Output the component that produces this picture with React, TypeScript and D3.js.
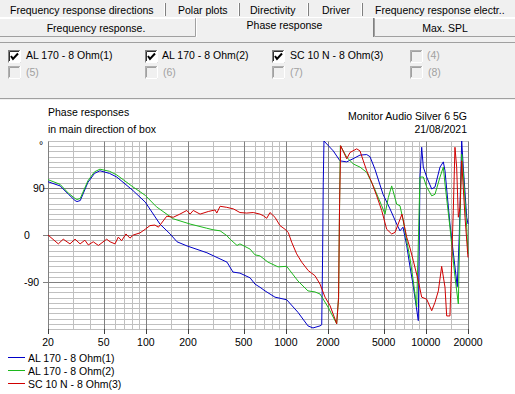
import React from "react";
import * as d3 from "d3";

// values (frequency in Hz, phase in degrees)
const blueFreq = [20, 24.4, 28, 31.2, 32.2, 34, 38.6, 43, 47, 55, 62, 81, 99, 126, 149, 167, 197, 273, 380, 419, 470, 555, 602, 653, 710, 836, 1014, 1220, 1438, 1562, 1754, 1804, 1830, 1850, 1872, 2182, 2436, 2721, 3020, 3386, 3780, 3990, 4330, 4944, 5545, 6192, 6535, 6868, 7296, 7705, 8092, 8832, 9080, 9336, 9588, 10140, 11010, 11620, 12620, 13330, 13700, 14860, 16140, 16760, 17340, 18030, 18510, 19580, 20000];
const bluePhase = [102, 94, 78, 66, 64, 66, 101, 118, 123, 118, 111, 85, 63, 21, 2, -13, -21, -34, -52, -71, -73, -82, -94, -100, -107, -119, -124, -148, -174, -178, -174, -172, -40, 100, 180, 161, 142, 140, 146, 153, 154, 150, 126, 78, 50, 21, 8, 15, -20, -61, -94, -164, 111, 168, 130, 111, 88, 92, 130, 140, 123, 21, -61, -99, 2, 180, 130, 34, 21];

const greenFreq = [20, 24.4, 28, 31.2, 32.2, 34, 38.6, 43, 47, 55, 62, 81, 99, 119, 157, 207, 272, 302, 339, 378, 399, 448, 470, 555, 602, 653, 746, 879, 1014, 1220, 1438, 1614, 1754, 2000, 2307, 2380, 2420, 2450, 2721, 3032, 3386, 3780, 4214, 4838, 5108, 5396, 5700, 6192, 6535, 6900, 7296, 7705, 8130, 8600, 9080, 9588, 10140, 11010, 11620, 12620, 13330, 13700, 14860, 16140, 17060, 17540, 18030, 18510, 19580, 20000];
const greenPhase = [106, 97, 80, 70, 68, 70, 104, 121, 126, 122, 115, 92, 76, 54, 31, 21, 13, 10, 8, -1, -8, -20, -17, -27, -38, -40, -52, -61, -60, -88, -107, -109, -113, -138, -170, -120, 60, 171, 149, 136, 130, 120, 94, 56, 40, 72, 94, 59, 56, 27, -11, -45, -88, -138, 111, 111, 92, 75, 78, 111, 130, 98, 15, -80, -132, 34, 155, 117, 15, -36];

const redFreq = [20, 23.7, 25.7, 28.7, 31.2, 33.9, 36.7, 38.8, 42.1, 45.8, 52.5, 55.5, 60.2, 63.6, 67.1, 72.1, 77, 81.3, 90.8, 99, 107, 116, 123, 133, 141, 157, 175, 196, 207, 218, 244, 279, 312, 321, 339, 378, 422, 470, 525, 585, 653, 690, 730, 770, 836, 908, 986, 1040, 1101, 1194, 1298, 1444, 1614, 1754, 1904, 2066, 2244, 2307, 2380, 2420, 2464, 2721, 2872, 3206, 3386, 3574, 3780, 4100, 4456, 4838, 5250, 5700, 6022, 6535, 6750, 7296, 7705, 8130, 8832, 9336, 10140, 11010, 11620, 12280, 12970, 13700, 14090, 14860, 15700, 16140, 16600, 17060, 17540, 18030, 19040, 20000];
const redPhase = [0, -17, -8, -17, -8, -17, -10, -19, -13, -20, -8, -13, -17, -4, -11, 2, -6, 0, 4, 11, 18, 19, 15, 27, 36, 34, 40, 47, 40, 47, 40, 45, 48, 42, 55, 53, 50, 43, 42, 43, 40, 37, 32, 43, 34, 18, 11, 5, -14, -36, -52, -68, -78, -94, -119, -135, -161, -170, -120, 60, 171, 146, 158, 165, 161, 142, 123, 101, 75, 47, 11, 2, 5, 30, 40, -4, -25, -49, -88, -119, -123, -145, -129, -107, -60, -100, -155, -155, 47, 168, 130, 34, 53, 142, 34, -43];

const seriesNames = ["AL 170 - 8 Ohm(1)", "AL 170 - 8 Ohm(2)", "SC 10 N - 8 Ohm(3)"];
const seriesColors = ["#0000c8", "#1cb81c", "#d00000"];

const gridFreqs = [20, 30, 40, 50, 60, 70, 80, 90, 100, 150, 200, 300, 400, 500, 600, 700, 800, 900, 1000, 1500, 2000, 3000, 4000, 5000, 6000, 7000, 8000, 9000, 10000, 15000, 20000];
const xTickLabels = [20, 50, 100, 200, 500, 1000, 2000, 5000, 10000, 20000];
const yTickLabels = [90, 0, -90];

const topTabs = ["Frequency response directions", "Polar plots", "Directivity", "Driver", "Frequency response electr.."];
const topTabX = [10, 178, 250, 322, 375];
const topTabSeps = [165, 239, 308, 362];

const FONT = "'Liberation Sans', Arial, sans-serif";

const Checkbox = ({ x, y, checked, enabled }: { x: number; y: number; checked: boolean; enabled: boolean }) => (
  <g>
    <rect x={x + 0.5} y={y + 0.5} width={12} height={12} fill={enabled ? "#fff" : "#f0f0f0"} stroke={enabled ? "#808080" : "#b0b0b0"} />
    <path d={`M${x + 1.5},${y + 11} V${y + 1.5} H${x + 11}`} fill="none" stroke={enabled ? "#303030" : "#a0a0a0"} />
    <path d={`M${x + 0.5},${y + 12.5} H${x + 12.5} V${y}`} fill="none" stroke="#fff" />
    {checked && (
      <polyline points={`${x + 3},${y + 6} ${x + 5},${y + 9} ${x + 10},${y + 3.5}`} fill="none" stroke="#000" strokeWidth={2} />
    )}
  </g>
);

const App = () => {
  const W = 515;
  const H = 394;
  const x = d3.scaleLog().domain([20, 20000]).range([48, 468]);
  const y = d3.scaleLinear().domain([-180, 180]).range([329, 141]);
  const px = (v: number) => Math.round(v) + 0.5;

  const line = d3
    .line<[number, number]>()
    .x((d) => x(d[0]))
    .y((d) => y(d[1]));

  const series = [
    d3.zip(blueFreq, bluePhase) as [number, number][],
    d3.zip(greenFreq, greenPhase) as [number, number][],
    d3.zip(redFreq, redPhase) as [number, number][],
  ];

  const yGrid = d3.range(-180, 181, 10);
  const majorX = new Set(xTickLabels);

  return (
    <svg width={W} height={H} style={{ position: "fixed", left: 0, top: 0 }} fontFamily={FONT} fontSize={10.5}>
      <rect width={W} height={H} fill="#fff" />
      {/* tab strip and checkbox panel */}
      <rect width={W} height={100} fill="#f0f0f0" />
      <line x1={0} x2={W} y1={17.5} y2={17.5} stroke="#fff" />
      {topTabs.map((t, i) => (
        <text key={t} x={topTabX[i]} y={14} fill="#000">{t}</text>
      ))}
      {topTabSeps.map((s) => (
        <g key={s}>
          <line x1={s - 0.5} x2={s - 0.5} y1={3} y2={16} stroke="#fff" />
          <line x1={s + 0.5} x2={s + 0.5} y1={3} y2={16} stroke="#808080" />
        </g>
      ))}
      {/* second row */}
      <path d="M0,18.5 H195.5 V36.5 H0" fill="#f0f0f0" stroke="#a0a0a0" />
      <line x1={0} x2={195} y1={18.5} y2={18.5} stroke="#fff" />
      <path d="M515,18.5 H374.5 V36.5 H515" fill="#f0f0f0" stroke="#a0a0a0" />
      <line x1={375} x2={515} y1={18.5} y2={18.5} stroke="#fff" />
      <path d="M196.5,37 V17.5 H373.5 V37" fill="#f0f0f0" stroke="#fff" />
      <line x1={373.5} x2={373.5} y1={18} y2={37} stroke="#808080" />
      <text x={96} y={32} textAnchor="middle">Frequency response.</text>
      <text x={284.5} y={29} textAnchor="middle">Phase response</text>
      <text x={445} y={32} textAnchor="middle">Max. SPL</text>
      <line x1={0} x2={W} y1={42.5} y2={42.5} stroke="#a0a0a0" />
      <line x1={0} x2={W} y1={98.5} y2={98.5} stroke="#a0a0a0" />

      {/* series checkboxes */}
      <Checkbox x={8} y={50} checked enabled />
      <text x={26} y={59}>{seriesNames[0]}</text>
      <Checkbox x={145} y={50} checked enabled />
      <text x={162} y={59}>{seriesNames[1]}</text>
      <Checkbox x={272} y={50} checked enabled />
      <text x={290} y={59}>{seriesNames[2]}</text>
      <Checkbox x={410} y={50} checked={false} enabled={false} />
      <text x={427} y={59} fill="#a0a0a0">(4)</text>
      {[
        [8, "(5)"],
        [145, "(6)"],
        [272, "(7)"],
        [410, "(8)"],
      ].map(([cx, label]) => (
        <g key={label as string}>
          <Checkbox x={cx as number} y={66} checked={false} enabled={false} />
          <text x={(cx as number) + 18} y={76} fill="#a0a0a0">{label}</text>
        </g>
      ))}

      {/* titles */}
      <text x={48} y={116}>Phase responses</text>
      <text x={48} y={133}>in main direction of box</text>
      <text x={467} y={120} textAnchor="end">Monitor Audio Silver 6 5G</text>
      <text x={467} y={133} textAnchor="end">21/08/2021</text>

      {/* grid */}
      {yGrid.map((v) => (
        <line key={"h" + v} x1={48} x2={469} y1={px(y(v))} y2={px(y(v))} stroke={v % 90 === 0 && Math.abs(v) < 180 ? "#808080" : "#c0c0c0"} />
      ))}
      {gridFreqs.map((f) => (
        <line key={"v" + f} x1={px(x(f))} x2={px(x(f))} y1={px(y(180))} y2={px(y(-180))} stroke={majorX.has(f) ? "#808080" : "#c0c0c0"} />
      ))}

      {/* axes */}
      {yTickLabels.map((v) => (
        <g key={"yt" + v}>
          <line x1={43} x2={48} y1={px(y(v))} y2={px(y(v))} stroke="#808080" />
          <text x={v > 0 ? 33 : 24} y={y(v) + 4}>{v}</text>
        </g>
      ))}
      <text x={39} y={149}>°</text>
      {xTickLabels.map((f) => (
        <g key={"xt" + f}>
          <line x1={px(x(f))} x2={px(x(f))} y1={329} y2={334} stroke="#404040" />
          <text x={x(f)} y={346} textAnchor="middle">{f}</text>
        </g>
      ))}

      {/* curves */}
      {series.map((s, i) => (
        <path key={i} d={line(s) ?? ""} fill="none" stroke={seriesColors[i]} strokeWidth={1} />
      ))}

      {/* legend */}
      {seriesNames.map((n, i) => (
        <g key={n}>
          <line x1={8} x2={25} y1={357.5 + i * 13} y2={357.5 + i * 13} stroke={seriesColors[i]} />
          <text x={28} y={361.5 + i * 13}>{n}</text>
        </g>
      ))}
    </svg>
  );
};

export default App;
